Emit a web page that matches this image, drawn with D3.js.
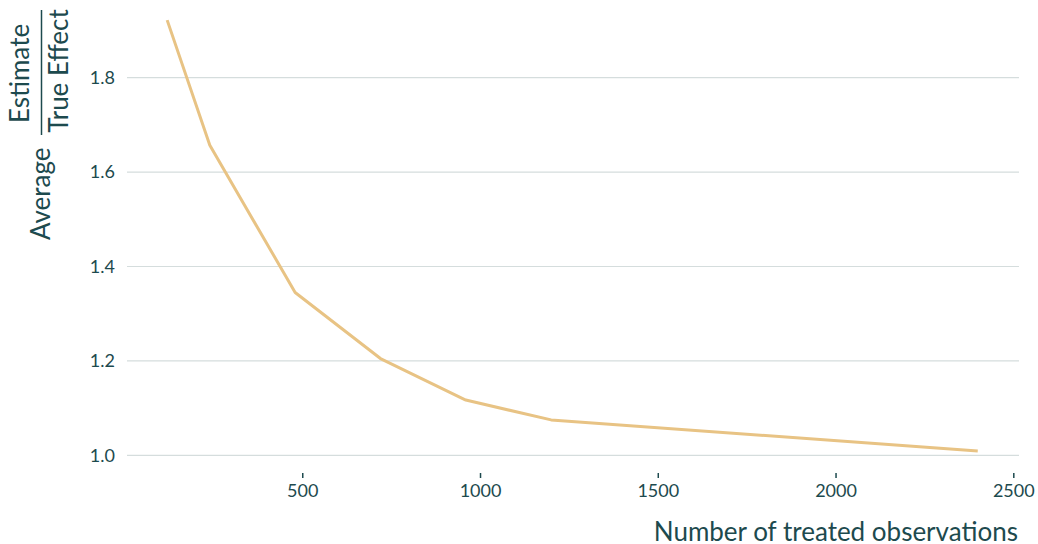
<!DOCTYPE html>
<html><head><meta charset="utf-8">
<script src="https://cdn.jsdelivr.net/npm/d3@7"></script>
<style>
html,body{margin:0;padding:0;background:#fff;}
svg{display:block;font-family:Lato,"Noto Sans",sans-serif;}
</style></head>
<body><svg id="chart" width="1038" height="544"></svg>
<script>
const treatedObs = [120, 240, 480, 720, 960, 1200, 2400];
const avgRatio = [1.922, 1.657, 1.345, 1.205, 1.117, 1.075, 1.009];
const xTicks = [500, 1000, 1500, 2000, 2500];
const yTicks = [1.0, 1.2, 1.4, 1.6, 1.8];
const xTitle = "Number of treated observations";
const yTitleLeft = "Average";
const yTitleNum = "Estimate";
const yTitleDen = "True Effect";

const textColor = "#1d4a4e", gridColor = "#d5dddd", lineColor = "#e8c384";
const svg = d3.select("#chart");

const x = d3.scaleLinear().domain([0, 2500]).range([124.5, 1013.3]);
const y = d3.scaleLinear().domain([1.0, 1.8]).range([455.3, 77.7]);
const gridX0 = 127, gridX1 = 1019;

// gridlines
svg.append("g").selectAll("line").data(yTicks).join("line")
  .attr("x1", gridX0).attr("x2", gridX1)
  .attr("y1", d => y(d)).attr("y2", d => y(d))
  .attr("stroke", gridColor).attr("stroke-width", 1.2);

// y tick labels
svg.append("g").selectAll("text").data(yTicks).join("text")
  .attr("x", 115).attr("y", d => y(d)).attr("dy", "0.35em")
  .attr("text-anchor", "end").attr("fill", textColor)
  .attr("font-size", 18).text(d => d3.format(".1f")(d));

// x axis
const xAxis = d3.axisBottom(x).tickValues(xTicks).tickSize(5).tickPadding(6).tickFormat(d3.format("d"));
const gx = svg.append("g").attr("transform", "translate(0,473)").call(xAxis);
gx.select(".domain").remove();
gx.selectAll(".tick line").attr("stroke", textColor).attr("stroke-width", 1.5);
gx.selectAll(".tick text").attr("fill", textColor).attr("font-size", 18)
  .attr("font-family", "Lato, 'Noto Sans', sans-serif");

// line
const line = d3.line().x((d, i) => x(treatedObs[i])).y(d => y(d));
svg.append("path").datum(avgRatio)
  .attr("d", line).attr("fill", "none")
  .attr("stroke", lineColor).attr("stroke-width", 3).attr("stroke-linejoin", "round");

// x title
svg.append("text").attr("x", 1018).attr("y", 541).attr("text-anchor", "end")
  .attr("fill", textColor).attr("font-size", 26).text(xTitle);

// y title (rotated), with fraction
const gt = svg.append("g").attr("fill", textColor).attr("font-size", 26);
gt.append("text").attr("transform", "translate(50,240) rotate(-90)")
  .attr("text-anchor", "start").text(yTitleLeft);
gt.append("text").attr("transform", "translate(29,73.5) rotate(-90)")
  .attr("text-anchor", "middle").text(yTitleNum);
gt.append("text").attr("transform", "translate(67.5,71) rotate(-90)")
  .attr("text-anchor", "middle").text(yTitleDen);
svg.append("line").attr("x1", 41.5).attr("x2", 41.5).attr("y1", 10).attr("y2", 135)
  .attr("stroke", textColor).attr("stroke-width", 1.5);
</script></body></html>
